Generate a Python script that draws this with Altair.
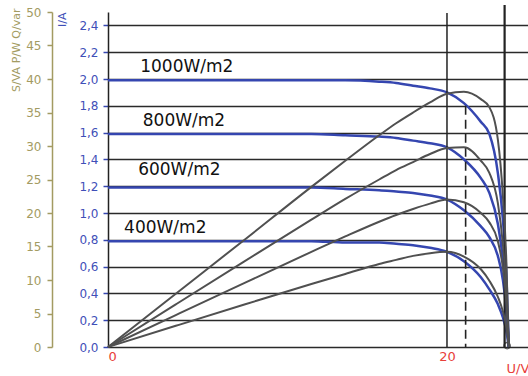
import altair as alt
import pandas as pd

# ---- data ----
volts = [0, 4, 8, 12, 14, 16, 17, 18, 19, 20, 21, 22, 22.5, 23, 23.3, 23.5, 23.65]
levels = ["1000W/m2", "800W/m2", "600W/m2", "400W/m2"]

i_1000 = [1.99, 1.99, 1.99, 1.99, 1.99, 1.98, 1.97, 1.95, 1.93, 1.90, 1.82, 1.68, 1.59, 1.30, 0.95, 0.55, 0.0]
i_800 = [1.59, 1.59, 1.59, 1.59, 1.58, 1.57, 1.56, 1.54, 1.52, 1.49, 1.40, 1.26, 1.15, 0.92, 0.65, 0.35, 0.0]
i_600 = [1.19, 1.19, 1.19, 1.19, 1.18, 1.17, 1.16, 1.15, 1.13, 1.10, 1.02, 0.90, 0.82, 0.68, 0.50, 0.28, 0.0]
i_400 = [0.79, 0.79, 0.79, 0.79, 0.78, 0.78, 0.77, 0.76, 0.74, 0.71, 0.64, 0.52, 0.43, 0.32, 0.22, 0.12, 0.0]

p_1000 = [0, 7.96, 15.9, 23.9, 27.8, 31.6, 33.4, 35.0, 36.5, 37.8, 38.1, 37.0, 35.8, 31.0, 22.5, 13.0, 0]
p_800 = [0, 6.36, 12.7, 19.0, 22.1, 25.0, 26.4, 27.6, 28.8, 29.7, 29.8, 27.8, 26.0, 21.5, 15.3, 8.5, 0]
p_600 = [0, 4.76, 9.5, 14.2, 16.5, 18.7, 19.7, 20.6, 21.4, 22.0, 21.6, 20.0, 18.6, 15.8, 11.8, 6.8, 0]
p_400 = [0, 3.16, 6.3, 9.4, 10.9, 12.4, 13.0, 13.6, 14.0, 14.2, 13.5, 11.6, 9.9, 7.5, 5.3, 3.0, 0]

label_u = [1.9, 2.05, 1.78, 0.95]
label_i = [2.09, 1.69, 1.32, 0.89]

i_ticks = [0, 0.2, 0.4, 0.6, 0.8, 1.0, 1.2, 1.4, 1.6, 1.8, 2.0, 2.2, 2.4]
p_ticks = [0, 5, 10, 15, 20, 25, 30, 35, 40, 45, 50]
u_ticks = [0, 20]
u_open = 23.4       # open-circuit marker line
u_mpp = 21.1        # dashed MPP line
i_mpp = 1.80

# ---- tables ----
rows_i, rows_p = [], []
for lvl, ia, pa in zip(levels, [i_1000, i_800, i_600, i_400], [p_1000, p_800, p_600, p_400]):
    for u, i, p in zip(volts, ia, pa):
        rows_i.append({"level": lvl, "U": u, "I": i})
        rows_p.append({"level": lvl, "U": u, "P": p})
df_i = pd.DataFrame(rows_i)
df_p = pd.DataFrame(rows_p)
df_lab = pd.DataFrame({"level": levels, "U": label_u, "I": label_i})
df_mpp = pd.DataFrame({"U": [u_mpp, u_mpp], "I": [i_mpp, 0.0]})
df_circle = pd.DataFrame({"U": [23.55], "I": [0.01]})

BLUE = "#3546b0"
BLUE_TXT = "#3f4fb8"
OLIVE = "#a39b62"
GREY = "#505050"
RED = "#e8403a"
FONT = "DejaVu Sans"

xs = alt.Scale(domain=[0, 24.78], nice=False, zero=False)
ys_i = alt.Scale(domain=[0, 2.5], nice=False, zero=False)
ys_p = alt.Scale(domain=[0, 50], nice=False, zero=False)

x_axis = alt.Axis(values=u_ticks, title="U/V", titleX=398, titleY=21, titleAlign="left",
                  titleBaseline="middle", titleColor=RED, titleFontWeight="normal",
                  titleFont=FONT, titleFontSize=13, labelColor=RED, labelFont=FONT,
                  labelFontSize=13, labelPadding=3, ticks=False, domain=False, grid=False,
                  format="d")

i_axis = alt.Axis(orient="left", values=i_ticks, grid=True, gridColor="#2a2a2a", gridWidth=1.4,
                  domainColor="#222222", domainWidth=1.5, tickColor=BLUE, tickSize=5, tickWidth=1.5,
                  labelColor=BLUE_TXT, labelFont=FONT, labelFontSize=12, labelPadding=5,
                  labelOverlap=False, labelFlush=False,
                  labelExpr="replace(format(datum.value, '.1f'), '.', ',')",
                  title="I/A", titleColor=BLUE_TXT, titleFont=FONT, titleFontSize=11,
                  titleFontWeight="normal", titleX=-46, titleY=0, titleAlign="right",
                  titleBaseline="middle", titleAngle=-90)

p_axis = alt.Axis(orient="left", offset=56, values=p_ticks, grid=False,
                  domainColor=OLIVE, domainWidth=1.5, tickColor=OLIVE, tickSize=5, tickWidth=1.5,
                  labelColor=OLIVE, labelFont=FONT, labelFontSize=12, labelPadding=6,
                  labelOverlap=False, labelFlush=False,
                  title="S/VA P/W Q/var", titleColor=OLIVE, titleFont=FONT, titleFontSize=11,
                  titleFontWeight="normal", titleX=-36, titleY=-4, titleAlign="right",
                  titleBaseline="middle", titleAngle=-90)

X = alt.X("U:Q", scale=xs, axis=x_axis)
YI = alt.Y("I:Q", scale=ys_i, axis=i_axis)

i_lines = alt.Chart(df_i).mark_line(color=BLUE, strokeWidth=2.5, interpolate="monotone").encode(
    x=X, y=YI, detail="level:N")

rule_mpp = alt.Chart(df_mpp).mark_line(color="#222222", strokeWidth=1.6, strokeDash=[9, 5]).encode(
    x=X, y=YI)

circle = alt.Chart(df_circle).mark_point(
    color="#222222", size=40, filled=False, strokeWidth=1.3).encode(x=X, y=YI)

labels = alt.Chart(df_lab).mark_text(align="left", baseline="middle", font=FONT, fontSize=17,
                                     color="#111111").encode(x=X, y=YI, text="level:N")

rule20 = alt.Chart(pd.DataFrame({"U": [20]})).mark_rule(color="#222222", strokeWidth=1.5).encode(
    x=X, y=alt.value(1), y2=alt.value(335))
rule_open = alt.Chart(pd.DataFrame({"U": [u_open]})).mark_rule(color="#222222", strokeWidth=2.2).encode(
    x=X, y=alt.value(-7), y2=alt.value(335))

inner = alt.layer(i_lines, rule_mpp, circle, labels, rule20, rule_open)

p_lines = alt.Chart(df_p).mark_line(color=GREY, strokeWidth=2, interpolate="monotone").encode(
    x=X,
    y=alt.Y("P:Q", scale=ys_p, axis=p_axis),
    detail="level:N",
)

chart = alt.layer(inner, p_lines).resolve_scale(y="independent").properties(
    width=420, height=335,
    autosize=alt.AutoSizeParams(type="none"),
    padding={"left": 108, "top": 12, "right": 0, "bottom": 29},
    background="white",
).configure_view(stroke=None)

chart.save("out.html", embed_options={"renderer": "svg", "actions": False})
